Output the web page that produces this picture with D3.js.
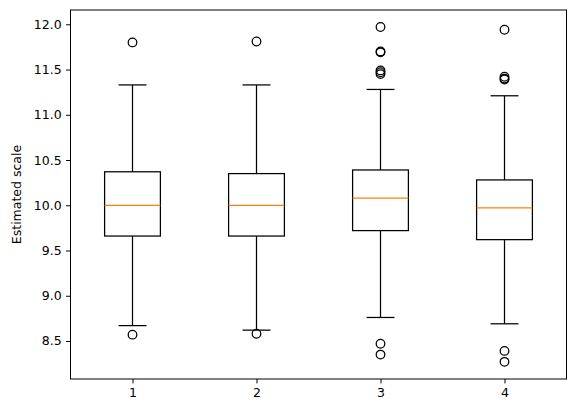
<!DOCTYPE html><html><head><script src="https://cdn.jsdelivr.net/npm/d3@7"></script>
<style>body{margin:0;background:#fff}</style></head><body><svg id="c" width="576" height="413"></svg>
<script>
const categories=["1","2","3","4"];
const q1=[9.66,9.66,9.72,9.62];
const medians=[10.0,10.0,10.08,9.97];
const q3=[10.37,10.35,10.39,10.28];
const whiskLo=[8.67,8.62,8.76,8.69];
const whiskHi=[11.33,11.33,11.28,11.21];
const fliers=[[11.8,8.57],[11.81,8.58],[11.97,11.70,11.69,11.49,11.47,11.45,8.47,8.35],[11.94,11.42,11.40,11.39,8.39,8.27]];
const yTicks=[8.5,9.0,9.5,10.0,10.5,11.0,11.5,12.0];
const svg=d3.select("#c");
const L=70.5,R=566.5,T=10,B=379;
const x=d3.scaleLinear().domain([0.5,4.5]).range([L,R]);
const y=d3.scaleLinear().domain([8.080,12.158]).range([B,T]);
const f="DejaVu Sans, sans-serif";
const ya=svg.append("g").attr("transform",`translate(${L},0)`).call(d3.axisLeft(y).tickValues(yTicks).tickFormat(d3.format(".1f")).tickSize(4.4).tickPadding(4.4));
const xa=svg.append("g").attr("transform",`translate(0,${B})`).call(d3.axisBottom(x).tickValues([1,2,3,4]).tickFormat((d,i)=>categories[i]).tickSize(4.4).tickPadding(4.4));
[ya,xa].forEach(a=>{a.select(".domain").remove();a.selectAll("text").attr("font-family",f).attr("font-size",12.5).attr("fill","#000");a.selectAll("line").attr("stroke","#000").attr("stroke-width",1);});
svg.append("rect").attr("x",L).attr("y",T).attr("width",R-L).attr("height",B-T).attr("fill","none").attr("stroke","#000").attr("stroke-width",1);
svg.append("text").attr("transform",`translate(21,${(T+B)/2}) rotate(-90)`).attr("text-anchor","middle").attr("font-family",f).attr("font-size",12.5).text("Estimated scale");
const bw=0.45,cw=0.225;
categories.forEach((c,i)=>{
 const cx=x(i+1),g=svg.append("g").attr("stroke","#000").attr("stroke-width",1.25).attr("fill","none");
 g.append("line").attr("x1",cx).attr("x2",cx).attr("y1",y(q1[i])).attr("y2",y(whiskLo[i]));
 g.append("line").attr("x1",cx).attr("x2",cx).attr("y1",y(q3[i])).attr("y2",y(whiskHi[i]));
 [whiskLo[i],whiskHi[i]].forEach(v=>g.append("line").attr("x1",x(i+1-cw/2)).attr("x2",x(i+1+cw/2)).attr("y1",y(v)).attr("y2",y(v)));
 g.append("rect").attr("x",x(i+1-bw/2)).attr("width",x(i+1+bw/2)-x(i+1-bw/2)).attr("y",y(q3[i])).attr("height",y(q1[i])-y(q3[i]));
 g.append("line").attr("x1",x(i+1-bw/2)).attr("x2",x(i+1+bw/2)).attr("y1",y(medians[i])).attr("y2",y(medians[i])).attr("stroke","#ff7f0e");
 fliers[i].forEach(v=>g.append("circle").attr("cx",cx).attr("cy",y(v)).attr("r",4.3));
});
</script></body></html>
